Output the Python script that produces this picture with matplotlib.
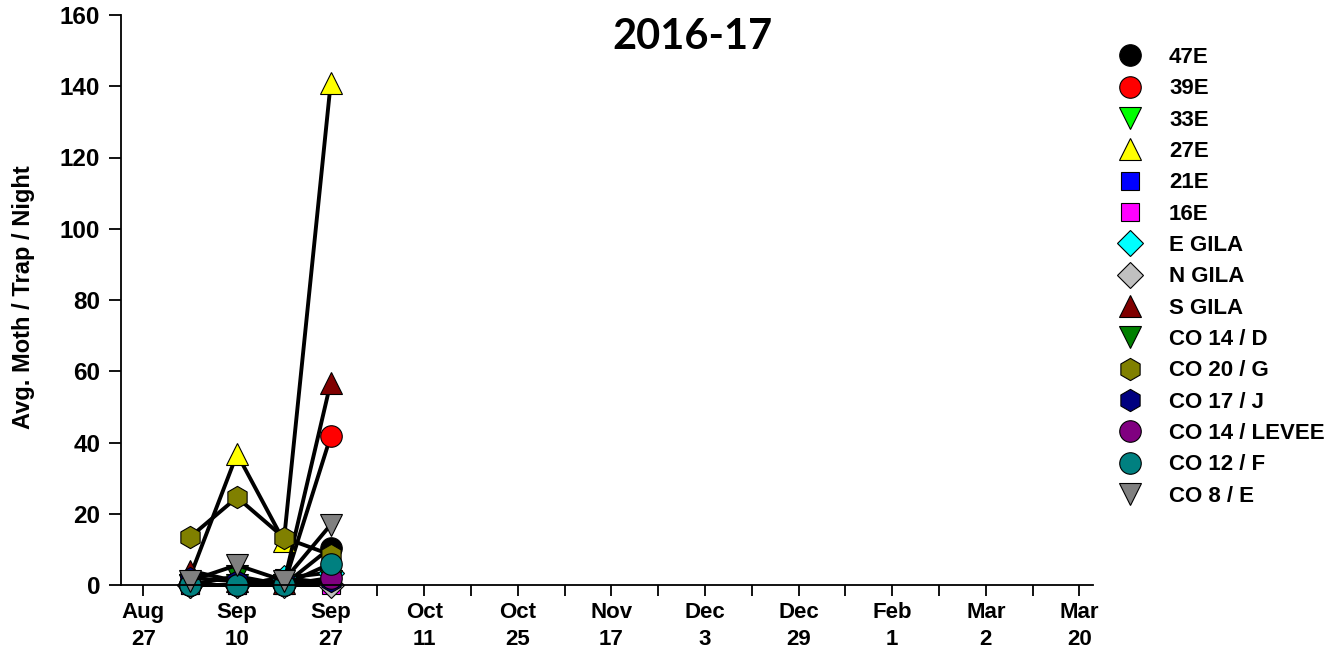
import matplotlib
matplotlib.use("Agg")
import matplotlib.pyplot as plt
from matplotlib.lines import Line2D

plt.rcParams['font.family'] = ['Liberation Sans', 'DejaVu Sans']

# ---- data ----
sample_pos = [1, 2, 3, 4]
tick_pos = [0, 2, 4, 6, 8, 10, 12, 14, 16, 18, 20]
tick_labels = ["Aug\n27", "Sep\n10", "Sep\n27", "Oct\n11", "Oct\n25", "Nov\n17",
               "Dec\n3", "Dec\n29", "Feb\n1", "Mar\n2", "Mar\n20"]

site_names = ["47E", "39E", "33E", "27E", "21E", "16E", "E GILA", "N GILA", "S GILA",
              "CO 14 / D", "CO 20 / G", "CO 17 / J", "CO 14 / LEVEE", "CO 12 / F", "CO 8 / E"]

v_47E = [0, 0, 0, 10.5]
v_39E = [0, 0, 0, 41.7]
v_33E = [0, 0, 0, 0.5]
v_27E = [2.5, 36.8, 12.3, 140.8]
v_21E = [0, 0, 2, 0.5]
v_16E = [0, 0, 0, 0]
v_EGILA = [0, 0, 2, 3.5]
v_NGILA = [0, 0, 0, 0]
v_SGILA = [4, 1, 0.5, 56.8]
v_CO14D = [0, 2.5, 0, 1]
v_CO20G = [13.5, 24.6, 13.3, 8.5]
v_CO17J = [2, 1, 1, 1]
v_CO14L = [0, 0, 0, 2]
v_CO12F = [0, 0, 0, 6]
v_CO8E = [1.2, 5.6, 1.2, 16.9]

series = [v_47E, v_39E, v_33E, v_27E, v_21E, v_16E, v_EGILA, v_NGILA, v_SGILA,
          v_CO14D, v_CO20G, v_CO17J, v_CO14L, v_CO12F, v_CO8E]

# ---- styles ----
markers = ['o', 'o', 'v', '^', 's', 's', 'D', 'D', '^', 'v', 'h', 'h', 'o', 'o', 'v']
colors = ['#000000', '#FF0000', '#00FF00', '#FFFF00', '#0000FF', '#FF00FF', '#00FFFF',
          '#C0C0C0', '#800000', '#008000', '#808000', '#000080', '#800080', '#008080', '#808080']
msize = {'o': 15.5, 'v': 15.5, '^': 15.5, 's': 13.5, 'D': 13.0, 'h': 16.0}

fig = plt.figure(figsize=(13.4, 6.5), dpi=100)
ax = fig.add_axes([121/1340, 1 - 585/650, (1093 - 121)/1340, (585 - 15)/650])

for vals, m, c in zip(series, markers, colors):
    ax.plot(sample_pos, vals, color='black', linewidth=2.8, marker=m,
            markersize=msize[m], markerfacecolor=c, markeredgecolor='black',
            markeredgewidth=0.8, clip_on=False, solid_joinstyle='miter')

ax.set_xlim(-0.48, 20.29)
ax.set_ylim(0, 160)
ax.set_yticks(range(0, 161, 20))
ax.set_xticks(tick_pos)
ax.set_xticks([p + 1 for p in tick_pos[:-1]], minor=True)
ax.set_xticklabels(tick_labels, fontsize=16, fontweight='bold', linespacing=1.4)
ax.tick_params(axis='y', labelsize=17.5, direction='out', length=9, width=1.3, pad=6)
for lab in ax.get_yticklabels():
    lab.set_fontweight('bold')
ax.tick_params(axis='x', which='both', direction='out', length=8, width=1.3, pad=4)

for s in ['top', 'right']:
    ax.spines[s].set_visible(False)
for s in ['left', 'bottom']:
    ax.spines[s].set_linewidth(1.3)

ax.set_ylabel("Avg. Moth / Trap / Night", fontsize=17, fontweight='bold')
ax.yaxis.set_label_coords(-0.088, 0.505)

fig.text(692/1340, 1 - 37/650, "2016-17", ha='center', va='center',
         fontsize=30, fontweight='bold', family=['Lato', 'DejaVu Sans'])

handles = [Line2D([], [], linestyle='none', marker=m, markersize=msize[m],
                  markerfacecolor=c, markeredgecolor='black', markeredgewidth=0.8)
           for m, c in zip(markers, colors)]
leg = fig.legend(handles, site_names, loc='upper left',
                 bbox_to_anchor=(1119/1340, 1 - 47/650), frameon=False,
                 prop={'size': 16, 'weight': 'bold'}, handlelength=1.0,
                 handletextpad=1.25, labelspacing=0.465, borderpad=0, borderaxespad=0)

fig.savefig("out.png", dpi=100)
